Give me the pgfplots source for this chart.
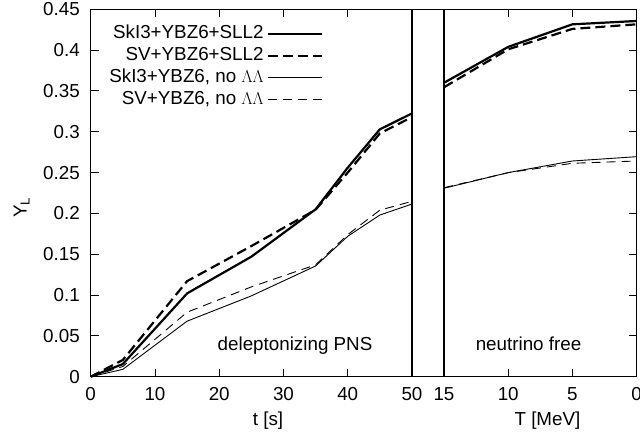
\documentclass[border=0pt]{standalone}
\usepackage{fontspec}
\setmainfont{Liberation Sans}
\usepackage{pgfplots}
\pgfplotsset{compat=1.18}
\begin{document}
\fontsize{18.8bp}{22bp}\selectfont
\begin{tikzpicture}
\path[use as bounding box] (0bp,0bp) rectangle (640bp,440bp);
\pgfplotsset{
  common/.style={
    scale only axis, height=367.4bp,
    axis line style={line width=1.1bp},
    ymin=0, ymax=0.45,
    ytick={0,0.05,0.1,0.15,0.2,0.25,0.3,0.35,0.4,0.45},
    tick style={line width=0.9bp, black},
    major tick length=8bp, tick align=inside,
    xtick pos=both, xticklabel pos=lower,
    /pgf/number format/assume math mode=true,
    yticklabel style={/pgf/number format/fixed, /pgf/number format/precision=2, xshift=-4.4bp},
    xticklabel style={yshift=-4bp},
    clip=false,
    thickS/.style={black, line width=2.2bp},
    thickD/.style={black, line width=2.2bp, dash pattern=on 10bp off 5bp},
    thinS/.style={black, line width=0.9bp},
    thinD/.style={black, line width=0.9bp, dash pattern=on 9bp off 6bp},
  }
}
\begin{axis}[common,
  at={(90.7bp,63.3bp)}, anchor=south west,
  width=321.3bp, xmin=0, xmax=50,
  xtick={0,10,20,30,40,50},
  ytick pos=left,
  xlabel={t [s]},
  xlabel style={at={(axis description cs:0.552,-0.1315)}, anchor=base},
  ylabel={Y\textsubscript{L}},
  ylabel style={at={(axis description cs:-0.215,0.46)}, anchor=center},
  legend cell align=right, legend plot pos=right,
  legend image code/.code={\draw[#1] (0bp,0bp) -- (54bp,0bp);},
  legend style={at={(rel axis cs:0.723,0.963)}, anchor=north east,
    draw=none, fill=none, inner sep=0pt, row sep=0.5bp, column sep=1bp,
    nodes={inner sep=2bp, text height=13.5bp, text depth=4bp}},
]
\addplot[thickS] coordinates {(0,0) (5,0.0155) (15,0.102) (25,0.147) (35,0.205) (40,0.256) (45,0.303) (50,0.3225)};
\addlegendentry{SkI3+YBZ6+SLL2}
\addplot[thickD] coordinates {(0,0) (5,0.0205) (15,0.117) (25,0.160) (35,0.2045) (40,0.250) (45,0.298) (50,0.318)};
\addlegendentry{SV+YBZ6+SLL2}
\addplot[thinS] coordinates {(0,0) (5,0.009) (15,0.068) (25,0.099) (35,0.1356) (40,0.172) (45,0.198) (50,0.2115)};
\addlegendentry{SkI3+YBZ6, no $\Lambda\Lambda$}
\addplot[thinD] coordinates {(0,0) (5,0.0125) (15,0.079) (25,0.110) (35,0.137) (40,0.174) (45,0.204) (50,0.2148)};
\addlegendentry{SV+YBZ6, no $\Lambda\Lambda$}
\node[anchor=base] at (axis cs:31.8,0.0327) {deleptonizing PNS};
\draw[line width=1.1bp] (rel axis cs:1,0) -- ++(32bp,0bp);
\draw[line width=1.1bp] (rel axis cs:1,1) -- ++(32bp,0bp);
\end{axis}
\begin{axis}[common,
  at={(444bp,63.3bp)}, anchor=south west,
  width=192.7bp, xmin=0, xmax=15, x dir=reverse,
  xtick={0,5,10,15},
  ytick pos=right, yticklabels={},
  xlabel={T [MeV]},
  xlabel style={at={(axis description cs:0.537,-0.1315)}, anchor=base},
]
\addplot[thickS] coordinates {(15,0.360) (10,0.404) (5,0.4316) (0,0.4357)};
\addplot[thickD] coordinates {(15,0.3545) (10,0.401) (5,0.426) (0,0.4316)};
\addplot[thinS] coordinates {(15,0.2308) (10,0.250) (5,0.2642) (0,0.2695)};
\addplot[thinD] coordinates {(15,0.2315) (10,0.2499) (5,0.2614) (0,0.2642)};
\node[anchor=base] at (axis cs:8.42,0.0327) {neutrino free};
\end{axis}
\end{tikzpicture}
\end{document}
